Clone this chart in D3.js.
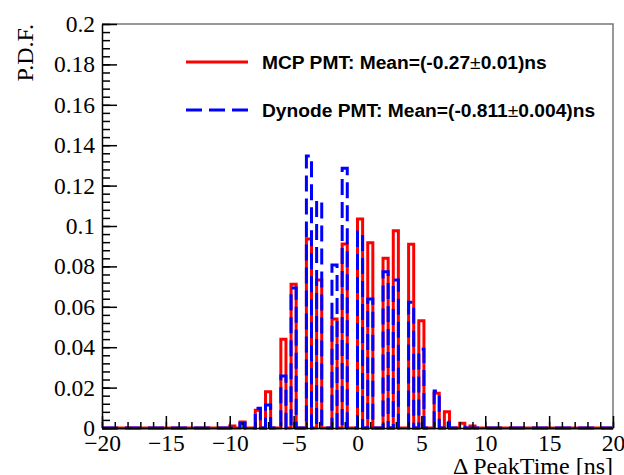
<!DOCTYPE html>
<html>
<head>
<meta charset="utf-8">
<script src="https://cdn.jsdelivr.net/npm/d3@7"></script>
<style>
  body { margin: 0; background: #fff; }
</style>
</head>
<body>
<div id="chart"></div>
<script>
// Peak time differences (ns) that carry entries
const peakTimes = [-10, -9, -8, -7, -6, -5, -4, -3, -2, -1,
  0, 1, 2, 3, 4, 5, 6, 7, 8, 9];
const mcpPdf = [0.001, 0.003, 0.0088, 0.018, 0.0439, 0.0712, 0.0936, 0.0733,
  0.054, 0.0911, 0.1035, 0.0917, 0.084, 0.0977, 0.091, 0.0531, 0.0172,
  0.0081, 0.0023, 0.001];
const dynodePdf = [0, 0.0024, 0.0098, 0.0114, 0.0257, 0.0693, 0.1347, 0.1125,
  0.0807, 0.1286, 0.097, 0.0639, 0.0773, 0.0733, 0.0623, 0.039, 0.0183,
  0.0028, 0.0004, 0];
const xTicks = [-20, -15, -10, -5, 0, 5, 10, 15, 20];
const yTicks = [0, 0.02, 0.04, 0.06, 0.08, 0.1, 0.12, 0.14, 0.16, 0.18, 0.2];
const legendLabels = ['MCP PMT: Mean=(-0.27±0.01)ns',
  'Dynode PMT: Mean=(-0.811±0.004)ns'];

const option = {
  width: 624,
  height: 475,
  frame: {left: 102, right: 613, top: 24, bottom: 428},
  nBins: 100,
  xDomain: [-20, 20],
  yDomain: [0, 0.2]
};

const svg = d3.select('#chart')
    .append('svg')
    .attr('width', option.width)
    .attr('height', option.height);

const x = d3.scaleLinear()
    .domain(option.xDomain)
    .range([option.frame.left, option.frame.right]);

const y = d3.scaleLinear()
    .domain(option.yDomain)
    .range([option.frame.bottom, option.frame.top]);

// fill 0.4 ns wide bins from the entries
const fillBins = (values) => {
  const [x0, x1] = option.xDomain;
  const bins = new Array(option.nBins).fill(0);
  peakTimes.forEach((t, i) => {
    bins[Math.floor((t - x0) * option.nBins / (x1 - x0))] += values[i];
  });
  const w = (x1 - x0) / option.nBins;
  const pts = bins.map((v, i) => [x0 + i * w, v]);
  pts.push([x1, bins[bins.length - 1]]);
  return pts;
};

const line = d3.line()
    .x((d) => x(d[0]))
    .y((d) => y(d[1]))
    .curve(d3.curveStepAfter);

svg.append('path')
    .datum(fillBins(mcpPdf))
    .attr('d', line)
    .attr('fill', 'none')
    .attr('stroke', '#ff0000')
    .attr('stroke-width', 3);

svg.append('path')
    .datum(fillBins(dynodePdf))
    .attr('d', line)
    .attr('fill', 'none')
    .attr('stroke', '#0000ff')
    .attr('stroke-width', 3)
    .attr('stroke-dasharray', '16,7');

// frame (top and right)
svg.append('path')
    .attr('d', `M${option.frame.left},${option.frame.top}` +
      `H${option.frame.right}V${option.frame.bottom}`)
    .attr('fill', 'none')
    .attr('stroke', '#777')
    .attr('stroke-width', 1.5);

// axes
const serif = '"Liberation Serif", "Times New Roman", serif';

const xMinor = svg.append('g')
    .attr('transform', `translate(0,${option.frame.bottom})`)
    .call(d3.axisBottom(x).ticks(40).tickSize(-6).tickFormat(''));
xMinor.select('.domain').remove();

const xAxis = svg.append('g')
    .attr('transform', `translate(0,${option.frame.bottom})`)
    .call(d3.axisBottom(x).tickValues(xTicks).tickSizeInner(-12)
        .tickSizeOuter(0).tickPadding(6));

const yMinor = svg.append('g')
    .attr('transform', `translate(${option.frame.left},0)`)
    .call(d3.axisLeft(y).tickValues(d3.range(0, 51).map((i) => i * 0.004))
        .tickSize(-8).tickFormat(''));
yMinor.select('.domain').remove();

const yAxis = svg.append('g')
    .attr('transform', `translate(${option.frame.left},0)`)
    .call(d3.axisLeft(y).tickValues(yTicks).tickFormat(d3.format('~g'))
        .tickSizeInner(-15).tickSizeOuter(0).tickPadding(7));

[xMinor, xAxis, yMinor, yAxis].forEach((g) => {
  g.selectAll('line').attr('stroke', '#000').attr('stroke-width', 1.5);
  g.selectAll('.domain').attr('stroke', '#000').attr('stroke-width', 1.5);
  g.selectAll('text')
      .attr('font-family', serif)
      .attr('font-size', 23.5)
      .attr('fill', '#000');
});

// titles
svg.append('text')
    .attr('transform', `translate(33,${option.frame.top}) rotate(-90)`)
    .attr('text-anchor', 'end')
    .attr('font-family', serif)
    .attr('font-size', 24)
    .text('P.D.F.');

svg.append('text')
    .attr('x', option.frame.right)
    .attr('y', 474)
    .attr('text-anchor', 'end')
    .attr('font-family', serif)
    .attr('font-size', 24)
    .text('Δ PeakTime [ns]');

// legend
const legendStyles = [
  {color: '#ff0000', dash: null, y: 62},
  {color: '#0000ff', dash: '16,7', y: 110}
];
legendLabels.forEach((label, i) => {
  const s = legendStyles[i];
  svg.append('line')
      .attr('x1', 186)
      .attr('x2', 248)
      .attr('y1', s.y)
      .attr('y2', s.y)
      .attr('stroke', s.color)
      .attr('stroke-width', 3)
      .attr('stroke-dasharray', s.dash);
  const parts = label.split('±');
  const t = svg.append('text')
      .attr('x', 262)
      .attr('y', s.y + 7)
      .attr('font-family', '"Liberation Sans", Arial, sans-serif')
      .attr('font-size', 19.2)
      .attr('font-weight', 'bold');
  t.append('tspan').text(parts[0]);
  t.append('tspan').attr('font-weight', 'normal').text('±');
  t.append('tspan').text(parts[1]);
});
</script>
</body>
</html>
